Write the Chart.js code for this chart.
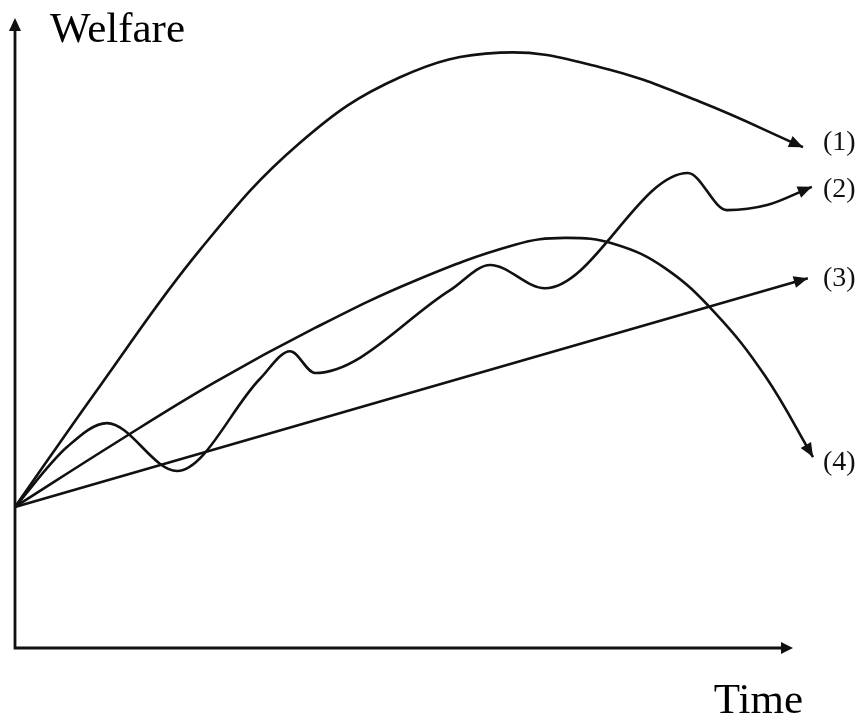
<!DOCTYPE html>
<html>
<head>
<meta charset="utf-8">
<title>Welfare over time</title>
<script src="https://cdn.jsdelivr.net/npm/chart.js@4.4.1/dist/chart.umd.min.js"></script>
<style>
  body { margin: 0; background: #fff; }
  canvas { display: block; }
</style>
</head>
<body>
<canvas id="chart" width="861" height="719"></canvas>
<script>
// path labels
var pathNames = ["(1)", "(2)", "(3)", "(4)"];

// (1) rises fast, peaks, then declines
var time1    = [0, 10.625, 23.125, 35.625, 48.125, 60.625, 73.125, 85.625, 98.5];
var welfare1 = [22.4, 41.6, 63.2, 80.2, 90.6, 94.5, 92.2, 86.7, 79.5];

// (2) wavy growth (peaks and troughs)
var time2    = [0, 6.5, 11.5, 20.25, 30.6, 34.4, 37.5, 54.4, 59.4, 66.25, 84.1, 89, 94, 99.6];
var welfare2 = [22.4, 31.9, 35.7, 28.1, 42.7, 47.1, 43.65, 56.8, 60.8, 57.1, 75.4, 69.5, 70.3, 73.2];

// (3) steady linear growth
var time3    = [0, 99.1];
var welfare3 = [22.4, 58.7];

// (4) grows then collapses
var time4    = [0, 12.5, 25, 37.5, 50, 62.5, 68.75, 75, 81.25, 87.5, 93.75, 99.75];
var welfare4 = [22.4, 32.5, 42.2, 50.8, 58.3, 64.0, 65.1, 64.1, 60.3, 53.2, 43.2, 30.3];

function pts(t, w) {
  return t.map(function (x, i) { return { x: x, y: w[i] }; });
}

var seriesList = [
  pts(time1, welfare1),
  pts(time2, welfare2),
  pts(time3, welfare3),
  pts(time4, welfare4)
];

// small nudges so the (n) text sits where it does in the figure
var labelNudge = [-5, 3, 0, 6];

function arrowHead(ctx, x0, y0, x1, y1, len, half) {
  var a = Math.atan2(y1 - y0, x1 - x0);
  ctx.beginPath();
  ctx.moveTo(x1, y1);
  ctx.lineTo(x1 - len * Math.cos(a) + half * Math.sin(a), y1 - len * Math.sin(a) - half * Math.cos(a));
  ctx.lineTo(x1 - len * Math.cos(a) - half * Math.sin(a), y1 - len * Math.sin(a) + half * Math.cos(a));
  ctx.closePath();
  ctx.fill();
}

// axes with arrows, axis titles, arrowheads and (n) labels at the end of each path
var sketchPlugin = {
  id: 'sketch',
  afterDatasetsDraw: function (chart) {
    var ctx = chart.ctx;
    var xs = chart.scales.x, ys = chart.scales.y;
    var ox = xs.getPixelForValue(0), oy = ys.getPixelForValue(0);
    var topY = ys.getPixelForValue(100);
    var endX = xs.getPixelForValue(97.25);
    ctx.save();
    ctx.strokeStyle = '#111';
    ctx.fillStyle = '#111';
    ctx.lineWidth = 2.8;
    ctx.beginPath();
    ctx.moveTo(ox, topY + 8);
    ctx.lineTo(ox, oy);
    ctx.lineTo(endX - 8, oy);
    ctx.stroke();
    arrowHead(ctx, ox, oy, ox, topY, 13, 6);
    arrowHead(ctx, ox, oy, endX, oy, 12, 6);

    chart.data.datasets.forEach(function (ds, i) {
      var meta = chart.getDatasetMeta(i);
      var n = meta.data.length;
      var p1 = meta.data[n - 1], p0 = meta.data[n - 2];
      arrowHead(ctx, p0.x, p0.y, p1.x, p1.y, 14, 6);
      ctx.font = '28px "Liberation Serif", "Times New Roman", serif';
      ctx.textAlign = 'left';
      ctx.textBaseline = 'middle';
      ctx.fillText(pathNames[i], chart.chartArea.right + 8, p1.y + labelNudge[i]);
    });

    ctx.fillStyle = '#000';
    ctx.font = '43px "Liberation Serif", "Times New Roman", serif';
    ctx.textBaseline = 'alphabetic';
    ctx.textAlign = 'left';
    ctx.fillText('Welfare', ox + 35, 42);
    ctx.textAlign = 'right';
    ctx.fillText('Time', endX + 10, oy + 65);
    ctx.restore();
  }
};

new Chart(document.getElementById('chart'), {
  type: 'line',
  data: {
    datasets: seriesList.map(function (d, i) {
      return {
        label: pathNames[i],
        data: d,
        borderColor: '#111',
        borderWidth: 2.6,
        pointRadius: 0,
        fill: false,
        clip: false,
        tension: 0.4,
        // the wavy path keeps flat tops at its peaks and troughs
        cubicInterpolationMode: i === 1 ? 'monotone' : 'default'
      };
    })
  },
  options: {
    responsive: false,
    animation: false,
    layout: { padding: { left: 15, right: 46, top: 18, bottom: 71 } },
    plugins: { legend: { display: false }, tooltip: { enabled: false } },
    scales: {
      x: { type: 'linear', min: 0, max: 100, display: false },
      y: { type: 'linear', min: 0, max: 100, display: false }
    }
  },
  plugins: [sketchPlugin]
});
</script>
</body>
</html>
